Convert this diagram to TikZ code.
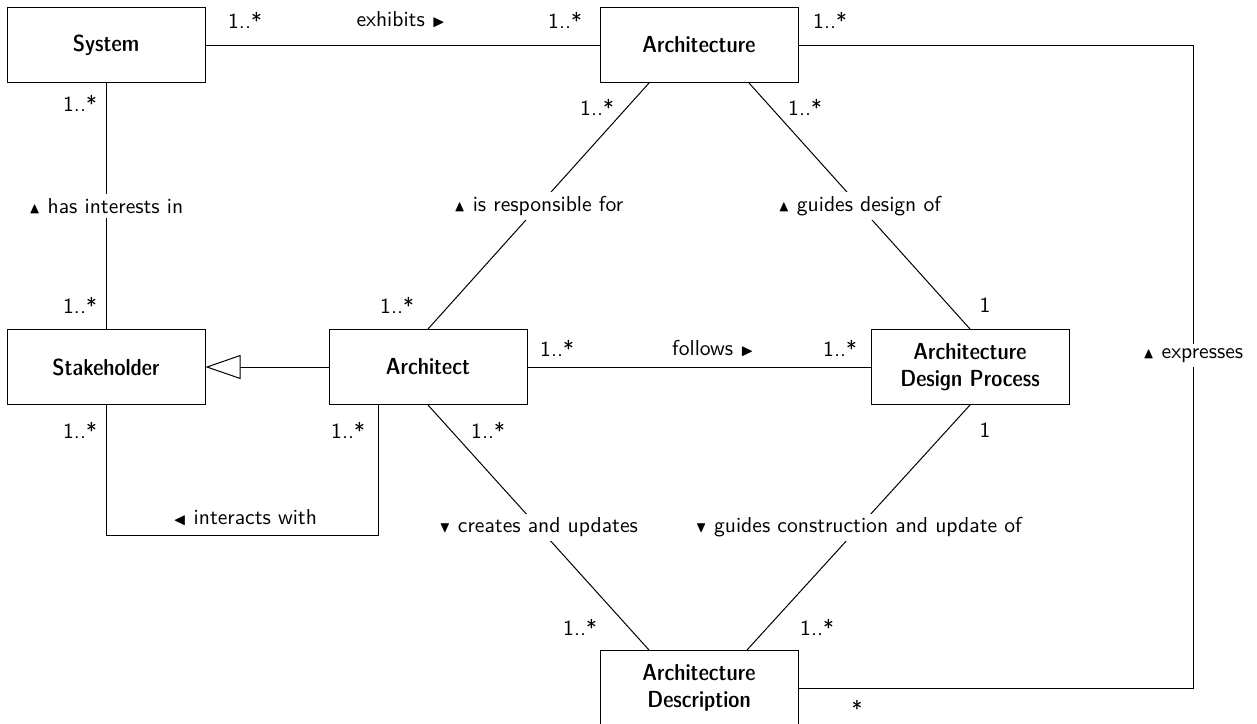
\documentclass[tikz,border=0pt]{standalone}
\usepackage{amssymb}
\usetikzlibrary{arrows.meta}
\newcommand{\tup}{$\scriptstyle\blacktriangle$}
\newcommand{\tdown}{$\scriptstyle\blacktriangledown$}
\newcommand{\tleft}{$\scriptstyle\blacktriangleleft$}
\newcommand{\tright}{$\scriptstyle\blacktriangleright$}
\begin{document}
\begin{tikzpicture}[x=0.5pt,y=-0.5pt,line width=0.5pt,
  txt/.style={font=\fontsize{10.8}{13}\selectfont\sffamily},
  cls/.style={draw,minimum width=99pt,minimum height=37.5pt,inner sep=0pt,align=center,
    font=\fontsize{11.6}{13.5}\selectfont\sffamily\fontseries{sbc}\selectfont},
  mult/.style={txt,inner sep=1pt},
  assoc/.style={txt,fill=white,inner sep=2pt},
  gen/.style={-{Triangle[open,length=17.5pt,width=12pt]}}
]
\useasboundingbox (0,0) rectangle (1257,723);

% classes
\node[cls] (sys)       at (106,45)  {System};
\node[cls] (arch)      at (699,45)  {Architecture};
\node[cls] (stake)     at (106,367) {Stakeholder};
\node[cls] (architect) at (428,367) {Architect};
\node[cls] (adp)       at (970,367) {Architecture\\Design Process};
\node[cls] (ad)        at (699,688) {Architecture\\Description};

% helper points
\coordinate (ibend) at (378,535);
\coordinate (etop)  at (1193,45);
\coordinate (ebot)  at (1193,688);

% associations
\draw (sys) -- (arch);
\draw (sys) -- node[assoc] (lhas) {\tup{} has interests in} (stake);
\draw[gen] (architect) -- (stake);
\draw (architect) -- (adp);
\draw ([xshift=-25pt]arch.south) -- node[assoc] (lresp) {\tup{} is responsible for} (architect.north);
\draw ([xshift=25pt]arch.south) -- node[assoc] (lguide) {\tup{} guides design of} (adp.north);
\draw (architect.south) -- node[assoc] (lcreate) {\tdown{} creates and updates} ([xshift=-25pt]ad.north);
\draw (adp.south) -- node[assoc] (lconstr) {\tdown{} guides construction and update of} ([xshift=24pt]ad.north);
\draw (stake.south) |- (ibend) -- ([xshift=-25pt]architect.south);
\draw (arch.east) -- (etop) -- node[assoc,yshift=5.5pt] (lexpr) {\tup{} expresses} (ebot) -- (ad.east);

% association names above lines
\node[mult] (lexh) at (401,20)  {exhibits \tright};
\node[mult] (lfol) at (713,348) {follows \tright};
\node[mult] (lint) at (245,518) {\tleft{} interacts with};

% multiplicities
\node[mult] (m1)  at (245,20)  {1..*};
\node[mult] (m2)  at (565,20)  {1..*};
\node[mult] (m3)  at (830,20)  {1..*};
\node[mult] (m4)  at (80,103)  {1..*};
\node[mult] (m5)  at (80,305)  {1..*};
\node[mult] (m6)  at (597,107) {1..*};
\node[mult] (m7)  at (805,107) {1..*};
\node[mult] (m8)  at (397,305) {1..*};
\node[mult] (m9)  at (985,305) {1};
\node[mult] (m10) at (557,348) {1..*};
\node[mult] (m11) at (840,348) {1..*};
\node[mult] (m12) at (80,430)  {1..*};
\node[mult] (m13) at (348,430) {1..*};
\node[mult] (m14) at (488,430) {1..*};
\node[mult] (m15) at (985,430) {1};
\node[mult] (m16) at (580,627) {1..*};
\node[mult] (m17) at (817,627) {1..*};
\node[mult] (m18) at (857,708) {*};
\end{tikzpicture}
\end{document}
